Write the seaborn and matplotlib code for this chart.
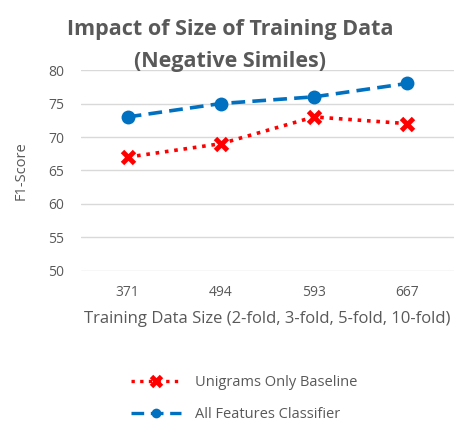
import matplotlib
matplotlib.use("Agg")
import matplotlib.pyplot as plt
import seaborn as sns
import pandas as pd

# data
sizes = ["371", "494", "593", "667"]
unigrams = [67, 69, 73, 72]
all_features = [73, 75, 76, 78]

sns.set_style("white")
plt.rcParams["font.family"] = ["Open Sans", "DejaVu Sans"]

gray = "#595959"
red = "#FF0000"
blue = "#0070C0"

fig = plt.figure(figsize=(4.56, 4.22), dpi=100)
ax = fig.add_axes([0.178, 0.358, 0.817, 0.476])

df_uni = pd.DataFrame({"size": sizes, "f1": unigrams})
df_all = pd.DataFrame({"size": sizes, "f1": all_features})

sns.lineplot(data=df_uni, x="size", y="f1", ax=ax, color=red,
             linestyle=(0, (1, 1.6)), linewidth=2.6, marker="x",
             markersize=9, markeredgewidth=3.5, markeredgecolor=red,
             label="Unigrams Only Baseline")
sns.lineplot(data=df_all, x="size", y="f1", ax=ax, color=blue,
             linestyle=(0, (3.8, 2)), linewidth=2.6, marker="o",
             markersize=10, markeredgewidth=0, markeredgecolor=blue,
             label="All Features Classifier")

ax.set_ylim(50, 80)
ax.set_xlim(-0.5, 3.5)
ax.set_yticks(range(50, 81, 5))
ax.grid(axis="y", color="#D9D9D9", linewidth=1)
ax.set_axisbelow(True)
for s in ax.spines.values():
    s.set_visible(False)
ax.tick_params(axis="both", length=0, labelsize=10, colors=gray, pad=10)
ax.tick_params(axis="y", pad=12)
ax.set_xlabel("Training Data Size (2-fold, 3-fold, 5-fold, 10-fold)",
              fontsize=12, color=gray, labelpad=8)
ax.set_ylabel("F1-Score", fontsize=10.5, color=gray, labelpad=14)

fig.text(0.505, 0.893, "Impact of Size of Training Data\n(Negative Similes)",
         ha="center", va="center", fontsize=15.5, fontweight="bold",
         color=gray, linespacing=1.7)

handles, labels = ax.get_legend_handles_labels()
ax.get_legend().remove()
leg = fig.legend(handles, labels, loc="upper left", bbox_to_anchor=(0.275, 0.125),
                 frameon=False, fontsize=10.5, labelcolor=gray, handlelength=3.4,
                 labelspacing=1.15, borderaxespad=0, handletextpad=1.0)
for ln in leg.get_lines():
    ln.set_markersize(7)
    ln.set_linewidth(2.4)

fig.savefig("out.png", dpi=100)
